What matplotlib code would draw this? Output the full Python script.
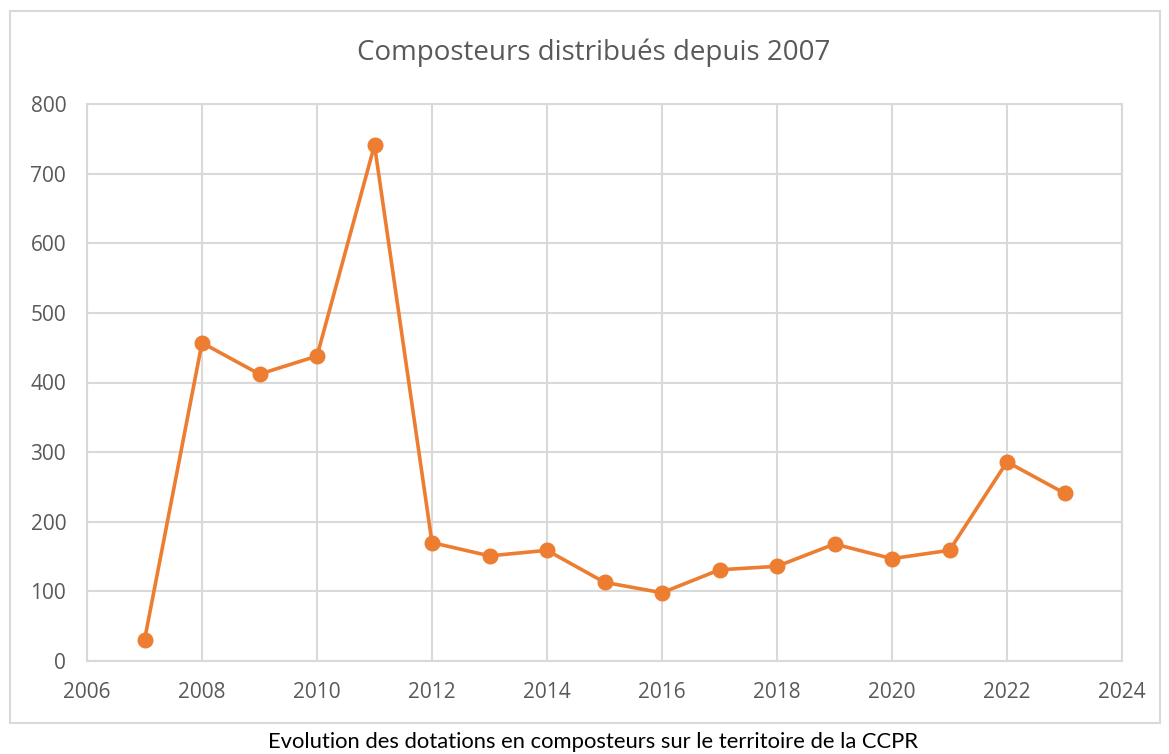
import matplotlib
matplotlib.use("Agg")
import matplotlib.pyplot as plt
from matplotlib.patches import Rectangle

years = [2007, 2008, 2009, 2010, 2011, 2012, 2013, 2014, 2015, 2016,
         2017, 2018, 2019, 2020, 2021, 2022, 2023]
values = [30, 457, 412, 438, 741, 170, 151, 159, 113, 98,
          131, 136, 168, 147, 159, 286, 241]
x_ticks = list(range(2006, 2025, 2))
y_ticks = list(range(0, 801, 100))

title = "Composteurs distribués depuis 2007"
caption = "Evolution des dotations en composteurs sur le territoire de la CCPR"

fig = plt.figure(figsize=(11.69, 7.54), dpi=100)
fig.patch.set_facecolor("white")

# outer chart border
fig.patches.append(Rectangle((10/1169, 1-723/754), 1150/1169, 712/754,
                             transform=fig.transFigure, fill=False,
                             edgecolor="#d9d9d9", linewidth=1.5))

ax = fig.add_axes([87/1169, 1-661/754, (1122-87)/1169, (661-104)/754])
ax.plot(years, values, color="#ED7D31", linewidth=2.6, marker="o",
        markersize=10.5, zorder=3)
ax.set_xlim(2006, 2024)
ax.set_ylim(0, 800)
ax.set_xticks(x_ticks)
ax.set_yticks(y_ticks)
ax.grid(True, color="#d9d9d9", linewidth=1.5)
ax.set_axisbelow(True)
for s in ax.spines.values():
    s.set_color("#d9d9d9")
    s.set_linewidth(1.5)
ax.tick_params(length=0, labelsize=15, labelcolor="#595959")
ax.tick_params(axis="y", pad=15)
ax.tick_params(axis="x", pad=15)
for lab in ax.get_xticklabels() + ax.get_yticklabels():
    lab.set_family("Open Sans")

fig.text(594/1169, 1-53/754, title, ha="center", va="center",
         fontsize=20, color="#595959", family="Open Sans")
fig.text(593/1169, 1-742/754, caption, ha="center", va="center",
         fontsize=15.8, color="black", family="Lato")

fig.savefig("out.png", dpi=100)
